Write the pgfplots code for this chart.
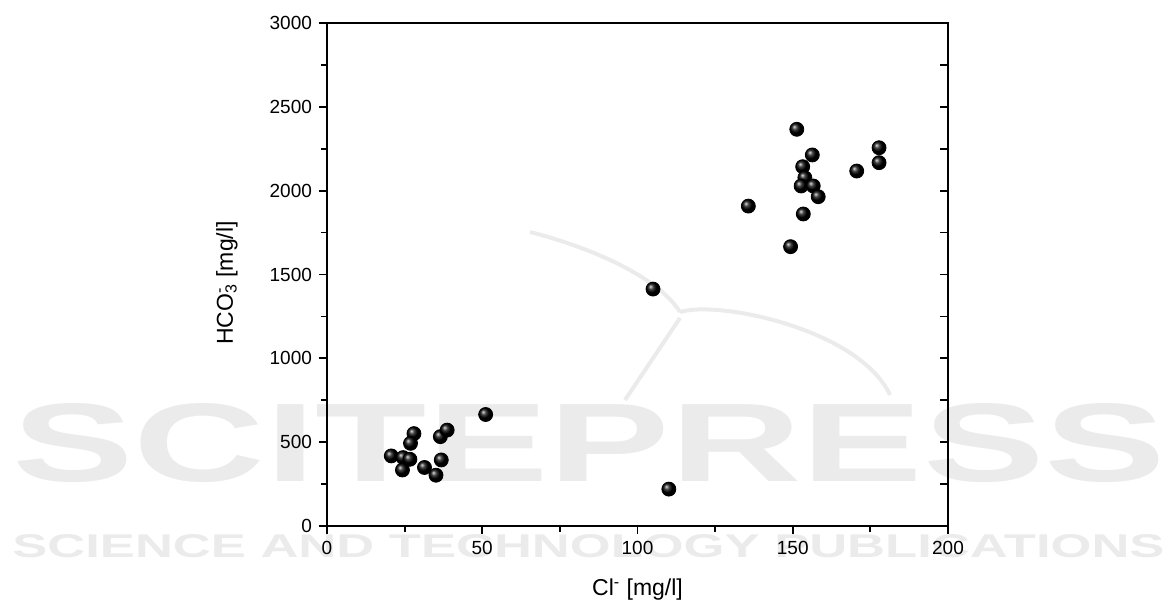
\documentclass[border=0pt]{standalone}
\usepackage{pgfplots}
\pgfplotsset{compat=1.18}
\usepackage{fontspec}
\setmainfont{Liberation Sans}
\usepackage{graphicx}

% Cl- vs HCO3- samples
\pgfplotstableread{
cl    hco3
20.7  418
24.5  408
26.7  398
24.3  334
28.0  551
26.9  493
31.4  349
35.1  303
36.8  394
36.5  533
38.7  572
51.1  665
105.0 1413
110.1 220
135.7 1908
149.3 1666
151.3 2366
156.3 2213
153.2 2143
153.9 2077
152.7 2028
156.6 2028
158.2 1964
153.4 1861
170.6 2117
177.8 2256
177.8 2167
}\chem

\begin{document}
\begin{tikzpicture}
\useasboundingbox (-163.5pt,-39.5pt) rectangle (419.5pt,263pt);

% watermark
\begin{scope}[black!8, line width=2pt]
\draw (101.5pt,147pt) .. controls (136.5pt,138pt) and (166.5pt,123pt) .. (176.5pt,107pt);
\draw (176.5pt,107pt) .. controls (196.5pt,113pt) and (266.5pt,98pt) .. (281.5pt,65.5pt);
\draw (176.5pt,104pt) -- (149pt,63pt);
\end{scope}
\node[anchor=south west, inner sep=0, text=black!8] at (-157.5pt,21.5pt)
  {\resizebox{576.5pt}{39pt}{\bfseries SCITEPRESS}};
\node[anchor=south west, inner sep=0, text=black!8] at (-157.5pt,-16pt)
  {\resizebox{576pt}{11.5pt}{\bfseries SCIENCE AND TECHNOLOGY PUBLICATIONS}};

\begin{axis}[
  scale only axis,
  width=310.5pt, height=251.5pt,
  xmin=0, xmax=200, ymin=0, ymax=3000,
  xtick={0,50,...,200}, ytick={0,500,...,3000},
  minor x tick num=1, minor y tick num=1,
  xtick pos=bottom, ytick pos=left,
  tick align=outside,
  major tick length=4pt, minor tick length=3pt,
  axis line style={line width=0.9pt},
  every tick/.style={black, line width=0.9pt},
  /pgf/number format/1000 sep={},
  /pgf/number format/assume math mode=true,
  tick label style={font=\fontsize{9.5}{11}\selectfont},
  label style={font=\fontsize{11.5}{13}\selectfont},
  xlabel={Cl\textsuperscript{-} [mg/l]},
  ylabel={HCO\rlap{\textsuperscript{-}}\textsubscript{3} [mg/l]},
  xlabel style={at={(axis description cs:0.5,-0.127)}, anchor=center},
  ylabel style={at={(axis description cs:-0.161,0.483)}, anchor=center},
]
\addplot[only marks, mark=ball, mark size=3.5pt, ball color=black]
  table[x=cl, y=hco3] {\chem};
\end{axis}

% inward ticks on the right side
\begin{axis}[
  scale only axis,
  width=310.5pt, height=251.5pt,
  xmin=0, xmax=200, ymin=0, ymax=3000,
  axis x line=none, axis y line*=right,
  ytick={0,500,...,3000}, minor y tick num=1,
  ytick pos=right, tick align=inside,
  yticklabels={},
  major tick length=4pt, minor tick length=4pt,
  axis line style={line width=0.9pt},
  every tick/.style={black, line width=0.9pt},
]
\end{axis}
\end{tikzpicture}
\end{document}
